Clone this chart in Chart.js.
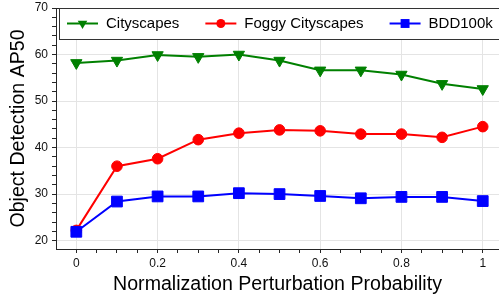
<!DOCTYPE html>
<html>
<head>
<meta charset="utf-8">
<script src="https://cdn.jsdelivr.net/npm/chart.js@4.4.0/dist/chart.umd.min.js"></script>
<style>
  html, body { margin: 0; padding: 0; background: #fff; overflow: hidden; }
  #grafica { display: block; }
</style>
</head>
<body>
<canvas id="grafica" width="499" height="299"></canvas>
<script>
// datos
const probabilidades = [0, 0.1, 0.2, 0.3, 0.4, 0.5, 0.6, 0.7, 0.8, 0.9, 1];
const cityscapes = [58.2, 58.7, 59.9, 59.5, 60.0, 58.7, 56.6, 56.6, 55.7, 53.7, 52.6];
const foggyCityscapes = [22.2, 36.0, 37.6, 41.7, 43.1, 43.8, 43.6, 42.9, 42.9, 42.2, 44.5];
const bdd100k = [21.9, 28.4, 29.5, 29.5, 30.2, 30.0, 29.6, 29.1, 29.4, 29.4, 28.5];
const nombresSeries = ["Cityscapes", "Foggy Cityscapes", "BDD100k"];

const xTickValues = [0, 0.2, 0.4, 0.6, 0.8, 1];
const xTickLabels = ["0", "0.2", "0.4", "0.6", "0.8", "1"];
const yTickValues = [20, 30, 40, 50, 60, 70];
const yTickLabels = ["20", "30", "40", "50", "60", "70"];
const xMinorStep = 0.05;
const yMinorStep = 2;

const fuente = "'Liberation Sans', Arial, Helvetica, sans-serif";
const colorGrid = "#e4e4e4";
const colorEje = "#262626";

//funcion que busca la etiqueta de un tick mayor, o devuelve null
function etiqueta(valor, valores, etiquetas) {
  const i = valores.findIndex((v) => Math.abs(v - valor) < 1e-6);
  return i === -1 ? null : etiquetas[i];
}

function ticksMenores(desde, hasta, paso) {
  const lista = [];
  const n = Math.round((hasta - desde) / paso);
  for (let i = 0; i <= n; i++) lista.push({ value: desde + i * paso });
  return lista;
}

//dibuja un marcador igual que en la grafica
function dibujarMarcador(ctx, estilo, cx, cy, r, color) {
  ctx.fillStyle = color;
  ctx.beginPath();
  if (estilo === "circle") {
    ctx.arc(cx, cy, r, 0, Math.PI * 2);
  } else if (estilo === "rect") {
    const s = r * Math.SQRT1_2;
    ctx.rect(cx - s, cy - s, 2 * s, 2 * s);
  } else {
    const h = r * Math.sin(Math.PI / 3);
    ctx.moveTo(cx, cy + r);
    ctx.lineTo(cx - h, cy - r / 2);
    ctx.lineTo(cx + h, cy - r / 2);
    ctx.closePath();
  }
  ctx.fill();
}

//plugin para la leyenda con linea y marcador
const leyendaPlugin = {
  id: "leyenda",
  afterDraw(chart) {
    const ctx = chart.ctx;
    const area = chart.chartArea;
    const fin = chart.width + 20;
    ctx.save();
    ctx.strokeStyle = colorEje;
    ctx.lineWidth = 1;
    ctx.beginPath();
    ctx.moveTo(area.left, area.top + 0.5);
    ctx.lineTo(fin, area.top + 0.5);
    ctx.stroke();

    const top = area.top + 0.5;
    const left = area.left + 3.5;
    ctx.fillStyle = "#fff";
    ctx.fillRect(left, top, fin - left, 31);
    ctx.strokeStyle = "#333";
    ctx.strokeRect(left, top, fin - left, 31);

    ctx.font = "15px " + fuente;
    ctx.textBaseline = "middle";
    const y = top + 15;
    let x = left + 7.5;
    const tamLeyenda = { circle: 4.5, rect: 6.3, triangle: 5.5 };
    chart.data.datasets.forEach((ds) => {
      ctx.strokeStyle = ds.borderColor;
      ctx.lineWidth = 2;
      ctx.beginPath();
      ctx.moveTo(x, y);
      ctx.lineTo(x + 31, y);
      ctx.stroke();
      dibujarMarcador(ctx, ds.pointStyle, x + 15.5, y, tamLeyenda[ds.pointStyle], ds.borderColor);
      ctx.fillStyle = "#000";
      ctx.fillText(ds.label, x + 39, y);
      x = x + 39 + ctx.measureText(ds.label).width + 26;
    });
    ctx.restore();
  },
};

function serie(label, data, color, estilo, radio, orden) {
  return {
    label,
    data: probabilidades.map((p, i) => ({ x: p, y: data[i] })),
    borderColor: color,
    backgroundColor: color,
    borderWidth: 2,
    pointStyle: estilo,
    pointRadius: radio,
    pointBorderWidth: 1,
    pointRotation: estilo === "triangle" ? 180 : 0,
    order: orden,
    tension: 0,
  };
}

const config = {
  type: "line",
  data: {
    datasets: [
      serie(nombresSeries[0], cityscapes, "#008000", "triangle", 6.5, 2),
      serie(nombresSeries[1], foggyCityscapes, "#ff0000", "circle", 5.3, 1),
      serie(nombresSeries[2], bdd100k, "#0000ff", "rect", 7.6, 0),
    ],
  },
  options: {
    responsive: false,
    animation: false,
    devicePixelRatio: 1,
    layout: { autoPadding: false, padding: { top: 8, right: 0, left: 0, bottom: 0 } },
    plugins: { legend: { display: false }, tooltip: { enabled: false } },
    scales: {
      x: {
        type: "linear",
        min: -0.05,
        max: 1.04,
        afterFit: (s) => { s.height = 50; s.paddingLeft = 0; s.paddingRight = 0; },
        afterBuildTicks: (s) => { s.ticks = ticksMenores(0, 1, xMinorStep); },
        grid: {
          color: (c) => (c.tick && etiqueta(c.tick.value, xTickValues, xTickLabels) !== null ? colorGrid : "rgba(0,0,0,0)"),
          tickColor: colorEje,
          tickLength: 4,
        },
        border: { color: colorEje, width: 1 },
        ticks: {
          autoSkip: false,
          maxRotation: 0,
          padding: 3,
          color: "#111",
          font: { family: fuente, size: 12 },
          callback: (v) => etiqueta(v, xTickValues, xTickLabels) || "",
        },
        title: {
          display: true,
          text: "Normalization Perturbation Probability",
          color: "#000",
          font: { family: fuente, size: 19.6 },
          padding: { top: 0, bottom: 3 },
        },
      },
      y: {
        min: 18.2,
        max: 70,
        afterFit: (s) => { s.width = 56; s.paddingTop = 0; s.paddingBottom = 0; },
        afterBuildTicks: (s) => { s.ticks = ticksMenores(20, 70, yMinorStep); },
        grid: {
          color: (c) => (c.tick && etiqueta(c.tick.value, yTickValues, yTickLabels) !== null ? colorGrid : "rgba(0,0,0,0)"),
          tickColor: colorEje,
          tickLength: 4,
        },
        border: { color: colorEje, width: 1 },
        ticks: {
          autoSkip: false,
          padding: 4,
          color: "#111",
          font: { family: fuente, size: 12 },
          callback: (v) => etiqueta(v, yTickValues, yTickLabels) || "",
        },
        title: {
          display: true,
          text: "Object Detection AP50",
          color: "#000",
          font: { family: fuente, size: 19.6 },
          padding: { top: 7, bottom: 0 },
        },
      },
    },
  },
  plugins: [leyendaPlugin],
};

const myChart = document.getElementById("grafica");
const chart = new Chart(myChart, config);
</script>
</body>
</html>
